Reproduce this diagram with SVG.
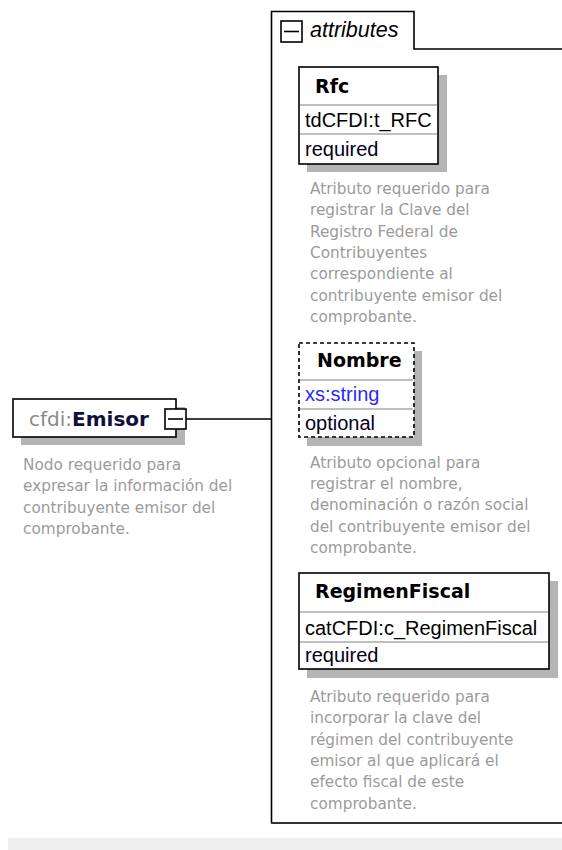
<svg xmlns="http://www.w3.org/2000/svg" width="562" height="850" viewBox="0 0 562 850">
<style>
.box{fill:#fff;stroke:#000;stroke-width:1.6}
.dbox{fill:#fff;stroke:#000;stroke-width:1.6;stroke-dasharray:4 3}
.shadow{fill:#b4b4b4}
.div{stroke:#808080;stroke-width:1.2}
.name{font-family:"DejaVu Sans",Verdana,sans-serif;font-weight:bold;font-size:19px;fill:#000}
.type{font-family:"Liberation Sans",Arial,sans-serif;font-size:20px;fill:#000}
.use{font-family:"Liberation Sans",Arial,sans-serif;font-size:20px;fill:#000018}
.desc{font-family:"DejaVu Sans",Tahoma,sans-serif;font-size:15.3px;fill:#9b9b9b}
.line{stroke:#000;stroke-width:1.6;fill:none}
</style>
<rect x="8" y="838" width="554" height="12" fill="#eeeeee"/>
<g id="attributes">
<path d="M271.5,823 V11.5 H414 V49 H562" class="line" stroke="#222"/>
<line x1="271" y1="823" x2="562" y2="823" stroke="#333" stroke-width="2"/>
<rect x="281" y="21" width="21" height="21" fill="#fff" stroke="#000" stroke-width="1.6"/>
<line x1="284" y1="31.5" x2="299" y2="31.5" stroke="#000" stroke-width="1.6"/>
<text x="310" y="37" font-family="Liberation Sans,Arial,sans-serif" font-style="italic" font-size="21.5" fill="#000">attributes</text>
</g>
<g id="connectors">
<line x1="186" y1="419" x2="271" y2="419" class="line"/>
</g>
<g id="emisor">
<rect x="21" y="407" width="164" height="38" class="shadow"/>
<rect x="13" y="399" width="163" height="38" class="box"/>
<text x="29" y="426" font-family="DejaVu Sans,Verdana,sans-serif" font-size="20"><tspan fill="#8a8a8a">cfdi:</tspan><tspan fill="#10103a" font-weight="bold">Emisor</tspan></text>
<rect x="165" y="409" width="21" height="20" fill="#fff" stroke="#000" stroke-width="1.6"/>
<line x1="168" y1="419" x2="183" y2="419" stroke="#000" stroke-width="1.6"/>
<text class="desc"><tspan x="23" y="470">Nodo requerido para</tspan><tspan x="23" y="491.3">expresar la información del</tspan><tspan x="23" y="512.6">contribuyente emisor del</tspan><tspan x="23" y="534">comprobante.</tspan></text>
</g>
<g id="rfc">
<rect x="307" y="75" width="140" height="97" class="shadow"/>
<rect x="299" y="67" width="139" height="97" class="box"/>
<line x1="300" y1="105" x2="437" y2="105" class="div"/>
<line x1="300" y1="134" x2="437" y2="134" class="div"/>
<text x="315" y="93" class="name">Rfc</text>
<text x="305" y="127" class="type">tdCFDI:t_RFC</text>
<text x="305" y="156" class="use">required</text>
<text class="desc"><tspan x="310" y="194">Atributo requerido para</tspan><tspan x="310" y="215.3">registrar la Clave del</tspan><tspan x="310" y="236.6">Registro Federal de</tspan><tspan x="310" y="258">Contribuyentes</tspan><tspan x="310" y="279.3">correspondiente al</tspan><tspan x="310" y="300.6">contribuyente emisor del</tspan><tspan x="310" y="322">comprobante.</tspan></text>
</g>
<g id="nombre">
<rect x="307" y="351" width="115" height="95" class="shadow"/>
<rect x="299" y="343" width="115" height="94" class="dbox"/>
<line x1="300" y1="380" x2="413" y2="380" class="div"/>
<line x1="300" y1="409" x2="413" y2="409" class="div"/>
<text x="317" y="367" class="name">Nombre</text>
<text x="305" y="401" class="type" fill="#2a2aff" style="fill:#2a2aff">xs:string</text>
<text x="305" y="430" class="use">optional</text>
<text class="desc"><tspan x="310" y="468">Atributo opcional para</tspan><tspan x="310" y="489.2">registrar el nombre,</tspan><tspan x="310" y="510.4">denominación o razón social</tspan><tspan x="310" y="531.6">del contribuyente emisor del</tspan><tspan x="310" y="552.8">comprobante.</tspan></text>
</g>
<g id="regimenfiscal">
<rect x="307" y="581" width="251" height="97" class="shadow"/>
<rect x="299" y="573" width="250" height="96" class="box"/>
<line x1="300" y1="612" x2="548" y2="612" class="div"/>
<line x1="300" y1="642" x2="548" y2="642" class="div"/>
<text x="315" y="598" class="name">RegimenFiscal</text>
<text x="305" y="635" class="type">catCFDI:c_RegimenFiscal</text>
<text x="305" y="662" class="use">required</text>
<text class="desc"><tspan x="310" y="702">Atributo requerido para</tspan><tspan x="310" y="723.3">incorporar la clave del</tspan><tspan x="310" y="744.6">régimen del contribuyente</tspan><tspan x="310" y="766">emisor al que aplicará el</tspan><tspan x="310" y="787.3">efecto fiscal de este</tspan><tspan x="310" y="808.6">comprobante.</tspan></text>
</g>
</svg>
